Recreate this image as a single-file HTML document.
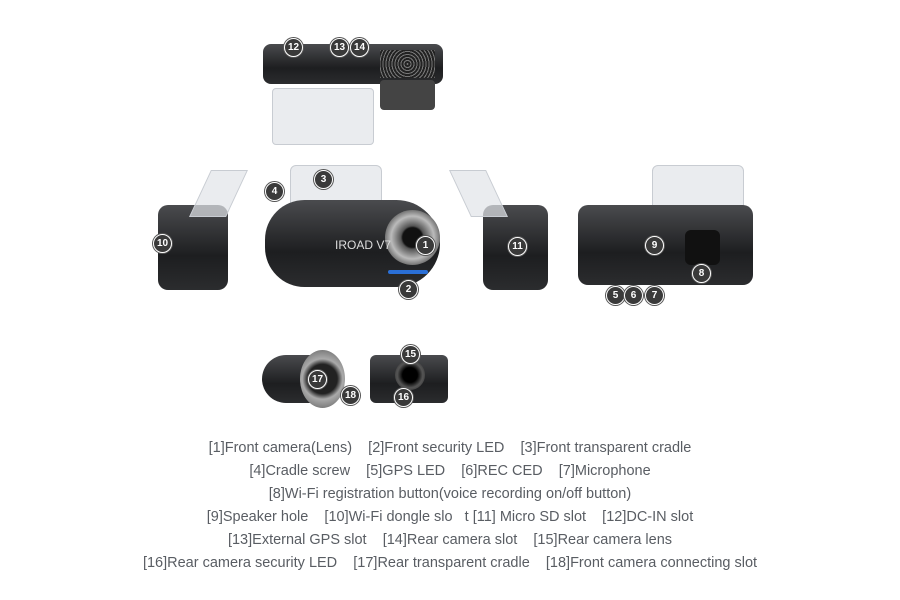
<!DOCTYPE html>
<html><head><meta charset="utf-8"><style>
body{margin:0;width:900px;height:600px;background:#fff;position:relative;overflow:hidden;font-family:"Liberation Sans",sans-serif}
.a{position:absolute}
.dk{background:linear-gradient(#4a4b4e,#1d1e20 60%,#2b2c2e);}
.cr{background:rgba(225,228,232,.7);border:1px solid #c8ccd2}
.n{position:absolute;width:17px;height:17px;border-radius:50%;background:#3a3a3a;color:#fff;font-size:10px;font-weight:bold;text-align:center;line-height:17px;border:1px solid #fff;box-shadow:0 0 0 1px #555}
.t{position:absolute;left:0;width:900px;text-align:center;color:#595d63;font-size:14.5px;letter-spacing:0;white-space:pre}
</style></head><body>
<div class="a cr" style="left:272px;top:88px;width:100px;height:55px;border-radius:4px"></div>
<div class="a dk" style="left:263px;top:44px;width:180px;height:40px;border-radius:8px"></div>
<div class="a" style="left:380px;top:80px;width:55px;height:30px;border-radius:4px;background:#444"></div>
<div class="a" style="left:380px;top:50px;width:55px;height:28px;background:repeating-radial-gradient(circle,#777 0 1px,#222 1px 3px)"></div>
<div class="a cr" style="left:290px;top:165px;width:90px;height:60px;border-radius:6px"></div>
<div class="a dk" style="left:265px;top:200px;width:175px;height:87px;border-radius:40px 44px 44px 40px"></div>
<div class="a" style="left:385px;top:210px;width:55px;height:55px;border-radius:50%;background:radial-gradient(circle,#111 0 25%,#555 30%,#bbb 55%,#777 70%,#333)"></div>
<div class="a" style="left:388px;top:270px;width:40px;height:4px;border-radius:2px;background:#2a6fd6"></div>
<div class="a" style="left:335px;top:238px;color:#ddd;font-size:12px">IROAD V7</div>
<div class="a dk" style="left:158px;top:205px;width:70px;height:85px;border-radius:10px"></div>
<div class="a cr" style="left:200px;top:170px;width:35px;height:45px;transform:skewX(-25deg)"></div>
<div class="a dk" style="left:483px;top:205px;width:65px;height:85px;border-radius:10px"></div>
<div class="a cr" style="left:460px;top:170px;width:35px;height:45px;transform:skewX(25deg)"></div>
<div class="a cr" style="left:652px;top:165px;width:90px;height:50px;border-radius:6px"></div>
<div class="a dk" style="left:578px;top:205px;width:175px;height:80px;border-radius:10px"></div>
<div class="a" style="left:685px;top:230px;width:35px;height:35px;border-radius:6px;background:#111"></div>
<div class="a dk" style="left:262px;top:355px;width:80px;height:48px;border-radius:25px"></div>
<div class="a" style="left:300px;top:350px;width:45px;height:58px;border-radius:50%;background:radial-gradient(circle,#222 0 40%,#aaa 55%,#555)"></div>
<div class="a dk" style="left:370px;top:355px;width:78px;height:48px;border-radius:6px"></div>
<div class="a" style="left:395px;top:360px;width:30px;height:30px;border-radius:50%;background:radial-gradient(circle,#000 0 35%,#555 60%,#222)"></div>
<div class="n" style="left:284px;top:38px">12</div>
<div class="n" style="left:330px;top:38px">13</div>
<div class="n" style="left:350px;top:38px">14</div>
<div class="n" style="left:314px;top:170px">3</div>
<div class="n" style="left:265px;top:182px">4</div>
<div class="n" style="left:416px;top:236px">1</div>
<div class="n" style="left:399px;top:280px">2</div>
<div class="n" style="left:153px;top:234px">10</div>
<div class="n" style="left:508px;top:237px">11</div>
<div class="n" style="left:645px;top:236px">9</div>
<div class="n" style="left:692px;top:264px">8</div>
<div class="n" style="left:606px;top:286px">5</div>
<div class="n" style="left:624px;top:286px">6</div>
<div class="n" style="left:645px;top:286px">7</div>
<div class="n" style="left:308px;top:370px">17</div>
<div class="n" style="left:341px;top:386px">18</div>
<div class="n" style="left:401px;top:345px">15</div>
<div class="n" style="left:394px;top:388px">16</div>
<div class="t" style="top:440px">[1]Front camera(Lens)    [2]Front security LED    [3]Front transparent cradle</div>
<div class="t" style="top:463px">[4]Cradle screw    [5]GPS LED    [6]REC CED    [7]Microphone</div>
<div class="t" style="top:486px">[8]Wi-Fi registration button(voice recording on/off button)</div>
<div class="t" style="top:509px">[9]Speaker hole    [10]Wi-Fi dongle slo   t [11] Micro SD slot    [12]DC-IN slot</div>
<div class="t" style="top:532px">[13]External GPS slot    [14]Rear camera slot    [15]Rear camera lens</div>
<div class="t" style="top:555px">[16]Rear camera security LED    [17]Rear transparent cradle    [18]Front camera connecting slot</div>
</body></html>
